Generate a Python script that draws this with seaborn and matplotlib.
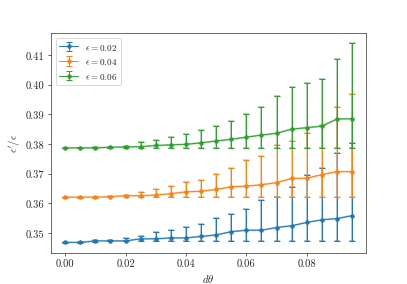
import numpy as np
import matplotlib
matplotlib.use('Agg')
import matplotlib.pyplot as plt
import seaborn as sns

# -------------------------------------------
# данные
d_theta = [0.000, 0.005, 0.010, 0.015, 0.020, 0.025, 0.030, 0.035, 0.040, 0.045,
           0.050, 0.055, 0.060, 0.065, 0.070, 0.075, 0.080, 0.085, 0.090, 0.095]

eps_labels = [r'$\epsilon = 0.02$', r'$\epsilon = 0.04$', r'$\epsilon = 0.06$']

# средние значения
mean_002 = [0.3469, 0.3469, 0.3474, 0.3474, 0.3474, 0.3481, 0.3481, 0.3484, 0.3484, 0.3489,
            0.3494, 0.3505, 0.3510, 0.3510, 0.3519, 0.3525, 0.3536, 0.3545, 0.3549, 0.3559]
mean_004 = [0.3621, 0.3621, 0.3621, 0.3623, 0.3626, 0.3626, 0.3628, 0.3633, 0.3639, 0.3641,
            0.3647, 0.3656, 0.3658, 0.3663, 0.3670, 0.3684, 0.3685, 0.3697, 0.3707, 0.3707]
mean_006 = [0.3787, 0.3787, 0.3787, 0.3789, 0.3790, 0.3791, 0.3795, 0.3797, 0.3799, 0.3804,
            0.3810, 0.3816, 0.3823, 0.3830, 0.3836, 0.3850, 0.3855, 0.3860, 0.3884, 0.3885]

# верхние границы
upper_002 = [0.3470, 0.3471, 0.3476, 0.3477, 0.3485, 0.3492, 0.3503, 0.3512, 0.3520, 0.3531,
             0.3550, 0.3563, 0.3581, 0.3610, 0.3621, 0.3655, 0.3697, 0.3720, 0.3770, 0.3804]
upper_004 = [0.3622, 0.3622, 0.3623, 0.3626, 0.3630, 0.3639, 0.3649, 0.3660, 0.3672, 0.3680,
             0.3699, 0.3719, 0.3747, 0.3759, 0.3795, 0.3810, 0.3836, 0.3865, 0.3924, 0.3968]
upper_006 = [0.3788, 0.3788, 0.3789, 0.3791, 0.3794, 0.3806, 0.3812, 0.3823, 0.3833, 0.3848,
             0.3862, 0.3877, 0.3901, 0.3923, 0.3961, 0.3991, 0.4005, 0.4019, 0.4085, 0.4139]

# нижние границы
lower_002 = [0.3468, 0.3468, 0.3471, 0.3472, 0.3472, 0.3473, 0.3473, 0.3473, 0.3473, 0.3474,
             0.3474, 0.3474, 0.3474, 0.3474, 0.3474, 0.3474, 0.3474, 0.3474, 0.3474, 0.3474]
lower_004 = [0.3620, 0.3620, 0.3620, 0.3621, 0.3621, 0.3621, 0.3621, 0.3621, 0.3621, 0.3621,
             0.3621, 0.3621, 0.3621, 0.3621, 0.3621, 0.3621, 0.3621, 0.3621, 0.3621, 0.3621]
lower_006 = [0.3786, 0.3786, 0.3786, 0.3786, 0.3786, 0.3786, 0.3786, 0.3786, 0.3786, 0.3786,
             0.3786, 0.3786, 0.3786, 0.3786, 0.3786, 0.3786, 0.3786, 0.3786, 0.3786, 0.3786]

# -------------------------------------------
# оформление
sns.set_style('ticks')
plt.rcParams['font.family'] = 'serif'
plt.rcParams['font.serif'] = ['cmr10', 'DejaVu Serif']
plt.rcParams['mathtext.fontset'] = 'cm'
plt.rcParams['axes.formatter.use_mathtext'] = True
plt.rcParams['axes.edgecolor'] = '0.2'
plt.rcParams['xtick.labelsize'] = 12
plt.rcParams['ytick.labelsize'] = 12
plt.rcParams['axes.labelsize'] = 12

colors = sns.color_palette('tab10', 3)

fig, ax = plt.subplots(figsize=(6.4, 4.48), dpi=63.6)

series = [(mean_002, lower_002, upper_002),
          (mean_004, lower_004, upper_004),
          (mean_006, lower_006, upper_006)]

x = np.array(d_theta)
for (m, lo, hi), c, lab in zip(series, colors, eps_labels):
    m, lo, hi = np.array(m), np.array(lo), np.array(hi)
    yerr = [m - lo, hi - m]
    # светлый слой
    ax.errorbar(x, m, yerr=yerr, color=c, alpha=0.4, lw=2.2, elinewidth=2.2,
                capsize=3, capthick=2.2)
    # основной слой
    ax.errorbar(x, m, yerr=yerr, color=c, lw=1.1, elinewidth=1.1, marker='o',
                markersize=4, capsize=3, capthick=1.1, label=lab)

ax.set_xlabel(r'$d\theta$')
ax.set_ylabel(r"$\epsilon'/\epsilon$")
ax.set_xticks([0.00, 0.02, 0.04, 0.06, 0.08])
ax.set_xticklabels(['0.00', '0.02', '0.04', '0.06', '0.08'])
ax.set_yticks([0.35, 0.36, 0.37, 0.38, 0.39, 0.40, 0.41])
ax.set_yticklabels(['0.35', '0.36', '0.37', '0.38', '0.39', '0.40', '0.41'])
ax.legend(loc='upper left', fontsize=10.5)

fig.savefig('out.png', dpi=63.6)
